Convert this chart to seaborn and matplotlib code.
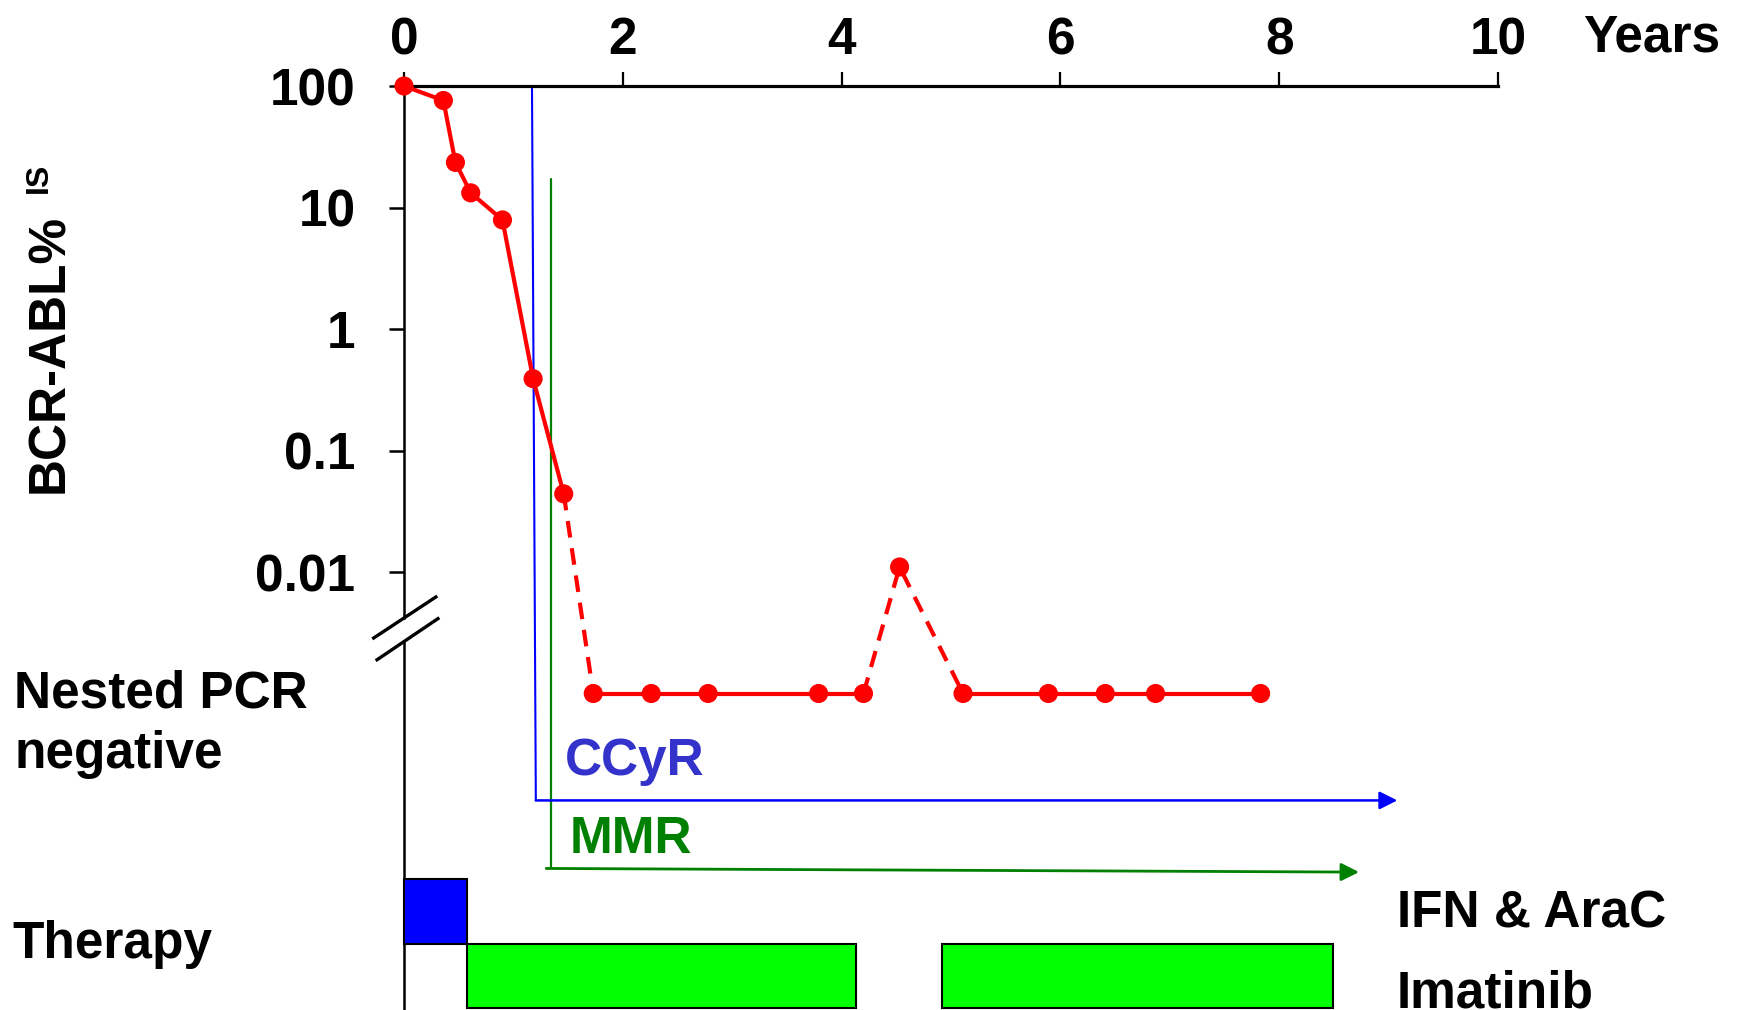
import numpy as np
import pandas as pd
import matplotlib
matplotlib.use("Agg")
import matplotlib.pyplot as plt
import seaborn as sns

# molecular response data (years since diagnosis, BCR-ABL % IS)
PCR_NEG = 1e-3  # plotting level for "Nested PCR negative"
years = [0, 0.36, 0.47, 0.61, 0.90, 1.18, 1.46, 1.73, 2.26, 2.78, 3.79, 4.20,
         4.53, 5.11, 5.89, 6.41, 6.87, 7.83]
bcr_abl = [100, 76, 23.5, 13.2, 7.9, 0.39, 0.044, PCR_NEG, PCR_NEG, PCR_NEG,
           PCR_NEG, PCR_NEG, 0.011, PCR_NEG, PCR_NEG, PCR_NEG, PCR_NEG, PCR_NEG]
# segments drawn dashed (index of the starting point)
dashed_from = [6, 11, 12]

# response milestones: vertical start, then arrow to the right
ccyr_x = [1.17, 1.205, 9.08]
ccyr_y = [100, 10 ** -3.88, 10 ** -3.88]
mmr_x = [1.343, 1.343]
mmr_y = [17.2, 10 ** -4.44]
mmr_arrow_x = [1.30, 8.73]
mmr_arrow_y = [10 ** -4.44, 10 ** -4.47]

# therapy periods: (start, end)
ifn_periods = [(0, 0.573)]
imatinib_periods = [(0.573, 4.13), (4.92, 8.49)]
ifn_row = (10 ** -5.062, 10 ** -4.527)
ima_row = (10 ** -5.588, 10 ** -5.062)

xticks = [0, 2, 4, 6, 8, 10]
yticks = [100, 10, 1, 0.1, 0.01]
ytick_labels = ["100", "10", "1", "0.1", "0.01"]

W, H = 1745, 1010
sns.set_theme(style="white")
plt.rcParams['font.family'] = ['Liberation Sans', 'DejaVu Sans']
plt.rcParams['font.weight'] = 'bold'
plt.rcParams['text.color'] = 'black'
plt.rcParams['xtick.color'] = 'black'
plt.rcParams['ytick.color'] = 'black'
FS = 37

fig = plt.figure(figsize=(W / 100, H / 100), dpi=100)
top_px, x0_px, x10_px = 86, 404, 1498
ax = fig.add_axes([x0_px / W, 0, (x10_px - x0_px) / W, 1 - top_px / H])


def px(x, y):
    return x / W, 1 - y / H


# build runs of solid / dashed line pieces
rows = []
run = 0
kind_prev = None
for i in range(len(years) - 1):
    kind = 'dashed' if i in dashed_from else 'solid'
    if kind != kind_prev:
        run += 1
        rows.append(dict(run=run, kind=kind, year=years[i], val=bcr_abl[i]))
    rows.append(dict(run=run, kind=kind, year=years[i + 1], val=bcr_abl[i + 1]))
    kind_prev = kind
seg = pd.DataFrame(rows)

ax.set_yscale('log')
sns.lineplot(data=seg, x='year', y='val', units='run', estimator=None,
             style='kind', dashes={'solid': '', 'dashed': (4, 2.6)},
             color='red', lw=3, legend=False, ax=ax, clip_on=False, zorder=4)
sns.scatterplot(x=years, y=bcr_abl, color='red', s=190, edgecolor='none',
                ax=ax, zorder=5, clip_on=False)

# CCyR
ax.plot(ccyr_x[:2], ccyr_y[:2], color='blue', lw=1.5, clip_on=False)
ax.annotate('', xy=(ccyr_x[2], ccyr_y[2]), xytext=(ccyr_x[1], ccyr_y[1]),
            arrowprops=dict(arrowstyle='-|>,head_length=0.6,head_width=0.3',
                            color='blue', lw=1.8, mutation_scale=18,
                            shrinkA=0, shrinkB=0))
# MMR
ax.plot(mmr_x, mmr_y, color='green', lw=1.6)
ax.annotate('', xy=(mmr_arrow_x[1], mmr_arrow_y[1]),
            xytext=(mmr_arrow_x[0], mmr_arrow_y[0]),
            arrowprops=dict(arrowstyle='-|>,head_length=0.6,head_width=0.3',
                            color='green', lw=2, mutation_scale=18,
                            shrinkA=0, shrinkB=0))

# therapy bars
for s, e in ifn_periods:
    ax.bar(s, ifn_row[1] - ifn_row[0], bottom=ifn_row[0], width=e - s,
           align='edge', color='#0000FF', edgecolor='black', lw=1.5,
           clip_on=False, zorder=3)
for s, e in imatinib_periods:
    ax.bar(s, ima_row[1] - ima_row[0], bottom=ima_row[0], width=e - s,
           align='edge', color='#00FF00', edgecolor='black', lw=1.5,
           clip_on=False, zorder=3)

ax.set_xlim(0, 10)
ax.set_ylim(10 ** (2 - (H - top_px) / 121.5), 100)
ax.set_xlabel('')
ax.set_ylabel('')

ax.xaxis.tick_top()
ax.set_xticks(xticks)
ax.set_xticklabels([str(t) for t in xticks])
ax.set_yticks(yticks)
ax.set_yticklabels(ytick_labels)
ax.yaxis.set_minor_locator(matplotlib.ticker.NullLocator())
ax.tick_params(axis='x', top=True, bottom=False, direction='out', length=10,
               width=1.6, pad=5, labelsize=FS, colors='black')
ax.tick_params(axis='y', left=True, direction='out', length=11, width=1.8,
               pad=24, labelsize=FS, colors='black')
for lab in ax.get_xticklabels() + ax.get_yticklabels():
    lab.set_fontweight('bold')

for sp in ['right', 'bottom']:
    ax.spines[sp].set_visible(False)
ax.spines['top'].set_linewidth(2.3)
ax.spines['top'].set_color('black')
# left axis with a break
brk_hi, brk_lo = 10 ** -2.379, 10 ** -2.573
ax.spines['left'].set_bounds(brk_hi, 100)
ax.spines['left'].set_linewidth(1.8)
ax.spines['left'].set_color('black')
ax.plot([0, 0], [ax.get_ylim()[0], brk_lo], color='black', lw=1.8,
        clip_on=False, zorder=2)
for yl, yh, xl, xh in [(10 ** -2.551, 10 ** -2.198, -0.29, 0.304),
                       (10 ** -2.730, 10 ** -2.376, -0.259, 0.323)]:
    ax.plot([xl, xh], [yl, yh], color='black', lw=2.4, clip_on=False,
            solid_capstyle='butt')

# labels
fig.text(*px(1583, 52), 'Years', fontsize=FS, fontweight='bold',
         va='baseline', ha='left')
fig.text(*px(63, 493), 'BCR-ABL%', fontsize=FS, fontweight='bold',
         rotation=90, rotation_mode='anchor', ha='left', va='baseline')
fig.text(*px(47, 193), 'IS', fontsize=23, fontweight='bold',
         rotation=90, rotation_mode='anchor', ha='left', va='baseline')
fig.text(*px(14, 708), 'Nested PCR', fontsize=FS, fontweight='bold',
         va='baseline')
fig.text(*px(14, 768), 'negative', fontsize=FS, fontweight='bold',
         va='baseline')
fig.text(*px(12, 958), 'Therapy', fontsize=FS, fontweight='bold',
         va='baseline')
fig.text(*px(1397, 928), 'IFN & AraC', fontsize=FS, fontweight='bold',
         va='baseline')
fig.text(*px(1397, 1007), 'Imatinib', fontsize=FS, fontweight='bold',
         va='baseline')
fig.text(*px(565, 775), 'CCyR', fontsize=FS, fontweight='bold',
         color='#3333CC', va='baseline')
fig.text(*px(570, 853), 'MMR', fontsize=FS, fontweight='bold',
         color='#008000', va='baseline')

fig.savefig('out.png', dpi=100, facecolor='white')
